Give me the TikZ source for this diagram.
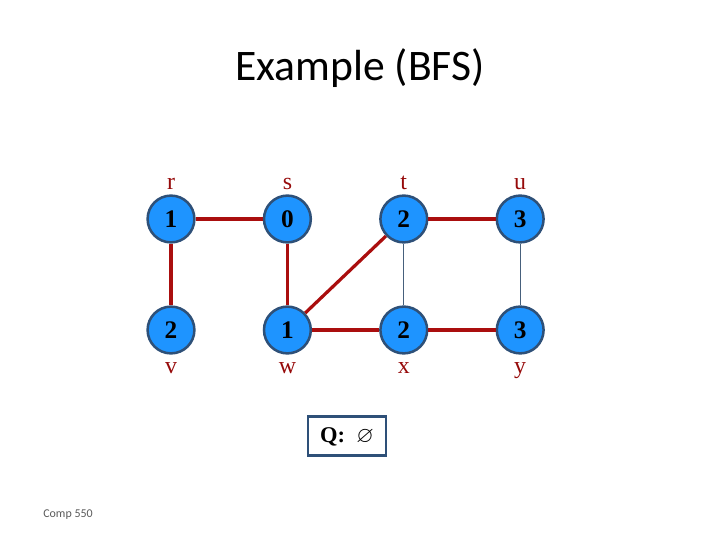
\documentclass[tikz,border=0pt]{standalone}
\usepackage{amssymb}
\usepackage{fontspec}
\setmainfont{Liberation Serif}
\newfontfamily\titlefont{Carlito}
\usetikzlibrary{positioning}

\definecolor{vfill}{RGB}{30,148,255}
\definecolor{vline}{RGB}{46,80,120}
\definecolor{treered}{RGB}{170,14,14}
\definecolor{thinedge}{RGB}{70,96,124}
\definecolor{lblred}{RGB}{150,10,10}

\tikzset{
  vertex/.style={circle,draw=vline,fill=vfill,line width=1.8pt,minimum size=1.17cm,inner sep=0pt,font=\fontsize{18}{18}\selectfont\bfseries},
  lbl/.style={text=lblred,inner sep=0pt,text height=1.5ex,text depth=0.4ex,font=\fontsize{17}{17}\selectfont},
  treeedge/.style={draw=treered,line width=2.3pt},
  otheredge/.style={draw=thinedge,line width=0.6pt},
}

\begin{document}
\begin{tikzpicture}
\useasboundingbox (0,0) rectangle (18,13.5);

% Title
\node[font=\titlefont\fontsize{31}{31}\selectfont] at (9,11.8) (title) {Example (BFS)};

\begin{scope}[node distance=2.91cm,every node/.style={vertex}]

% Nodes
\node[] at (4.275,8.025) (r) {1};
\node[right of = r] (s) {0};
\node[right of = s] (t) {2};
\node[right of = t] (u) {3};
\node[node distance=2.775cm,below of = r] (v) {2};
\node[right of = v] (w) {1};
\node[right of = w] (x) {2};
\node[right of = x] (y) {3};

\end{scope}

% Labels
\node[lbl,above=1.5pt of r] (rl) {r};
\node[lbl,above=1.5pt of s] (sl) {s};
\node[lbl,above=1.5pt of t] (tl) {t};
\node[lbl,above=1.5pt of u] (ul) {u};
\node[lbl,below=6pt of v] (vl) {v};
\node[lbl,below=6pt of w] (wl) {w};
\node[lbl,below=6pt of x] (xl) {x};
\node[lbl,below=6pt of y] (yl) {y};

% Edges
\draw[treeedge] (r) -- (s);
\draw[treeedge] (r) -- (v);
\draw[treeedge] (s) -- (w);
\draw[treeedge] (w) -- (t);
\draw[treeedge] (t) -- (u);
\draw[treeedge] (w) -- (x);
\draw[treeedge] (x) -- (y);
\draw[otheredge] (t) -- (x);
\draw[otheredge] (u) -- (y);

% Queue
\node[draw=vline,line width=2pt,minimum width=1.95cm,minimum height=0.975cm,font=\fontsize{16}{16}\selectfont] at (8.675,2.59) (queue) {\textbf{Q:}\enspace$\varnothing$};

% Footer
\node[font=\titlefont\fontsize{8.5}{8.5}\selectfont,text=black!65] at (1.7,0.625) (foot) {Comp 550};

\end{tikzpicture}
\end{document}
